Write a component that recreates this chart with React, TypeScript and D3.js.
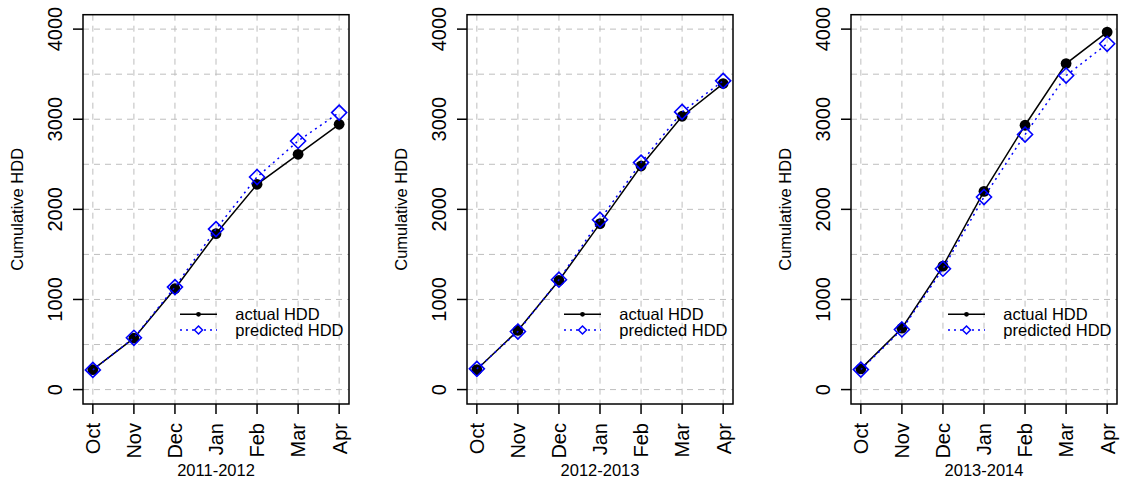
import React from "react";
import * as d3 from "d3";

const months = ["Oct", "Nov", "Dec", "Jan", "Feb", "Mar", "Apr"];
const seasons = ["2011-2012", "2012-2013", "2013-2014"];
const yTicks = [0, 1000, 2000, 3000, 4000];
const yGrid = [0, 500, 1000, 1500, 2000, 2500, 3000, 3500, 4000];

const actual2011 = [222, 570, 1119, 1730, 2278, 2611, 2944];
const predicted2011 = [218, 575, 1137, 1781, 2359, 2759, 3074];
const actual2012 = [222, 656, 1211, 1841, 2481, 3033, 3396];
const predicted2012 = [230, 644, 1219, 1885, 2519, 3081, 3426];
const actual2013 = [230, 681, 1370, 2200, 2933, 3618, 3967];
const predicted2013 = [222, 667, 1341, 2137, 2830, 3485, 3837];

const actualSeries = [actual2011, actual2012, actual2013];
const predictedSeries = [predicted2011, predicted2012, predicted2013];

const FONT = "'Liberation Sans', Arial, Helvetica, sans-serif";
const W = 1122;
const H = 485;
const boxLefts = [83, 467, 851];
const boxW = 266;
const boxTop = 14.7;
const boxBottom = 404;
const GRID = "#bebebe";
const BLUE = "#0000ff";

function diamond(cx: number, cy: number, r: number) {
  return `M${cx},${cy - r}L${cx + r},${cy}L${cx},${cy + r}L${cx - r},${cy}Z`;
}

function Panel({ idx }: { idx: number }) {
  const left = boxLefts[idx];
  const x = d3.scaleLinear().domain([0.76, 7.24]).range([left, left + boxW]);
  const y = d3.scaleLinear().domain([-160, 4160]).range([boxBottom, boxTop]);
  const actual = actualSeries[idx];
  const predicted = predictedSeries[idx];
  const line = d3
    .line<number>()
    .x((_, i) => x(i + 1))
    .y((d) => y(d));
  const legX = left + 97;
  const legY1 = 314.3;
  const legY2 = 330;
  const midY = (boxTop + boxBottom) / 2;
  return (
    <g>
      {/* grid */}
      {months.map((m, i) => (
        <line
          key={"vg" + m}
          x1={x(i + 1)}
          x2={x(i + 1)}
          y1={boxTop}
          y2={boxBottom}
          stroke={GRID}
          strokeWidth={1}
          strokeDasharray="6,5"
        />
      ))}
      {yGrid.map((v) => (
        <line
          key={"hg" + v}
          x1={left}
          x2={left + boxW}
          y1={y(v)}
          y2={y(v)}
          stroke={GRID}
          strokeWidth={1}
          strokeDasharray="6,5"
        />
      ))}
      {/* actual */}
      <path d={line(actual) || ""} fill="none" stroke="#000" strokeWidth={1.5} />
      {actual.map((v, i) => (
        <circle key={"a" + i} cx={x(i + 1)} cy={y(v)} r={5.4} fill="#000" />
      ))}
      {/* predicted */}
      <path
        d={line(predicted) || ""}
        fill="none"
        stroke={BLUE}
        strokeWidth={1.5}
        strokeDasharray="2,4"
      />
      {predicted.map((v, i) => (
        <path
          key={"p" + i}
          d={diamond(x(i + 1), y(v), 7.5)}
          fill="none"
          stroke={BLUE}
          strokeWidth={1.6}
        />
      ))}
      {/* box */}
      <rect
        x={left}
        y={boxTop}
        width={boxW}
        height={boxBottom - boxTop}
        fill="none"
        stroke="#000"
        strokeWidth={1.5}
      />
      {/* y axis */}
      {yTicks.map((v) => (
        <g key={"yt" + v}>
          <line x1={left - 10} x2={left} y1={y(v)} y2={y(v)} stroke="#000" strokeWidth={1.5} />
          <text
            transform={`translate(${left - 21},${y(v)}) rotate(-90)`}
            textAnchor="middle"
            fontFamily={FONT}
            fontSize={20}
            fill="#000"
          >
            {v}
          </text>
        </g>
      ))}
      {/* x axis */}
      {months.map((m, i) => (
        <g key={"xt" + m}>
          <line x1={x(i + 1)} x2={x(i + 1)} y1={boxBottom} y2={boxBottom + 10} stroke="#000" strokeWidth={1.5} />
          <text
            transform={`translate(${x(i + 1) + 7.4},${boxBottom + 19}) rotate(-90)`}
            textAnchor="end"
            fontFamily={FONT}
            fontSize={20}
            fill="#000"
          >
            {m}
          </text>
        </g>
      ))}
      <text
        x={left + boxW / 2}
        y={476}
        textAnchor="middle"
        fontFamily={FONT}
        fontSize={16.5}
        fill="#000"
      >
        {seasons[idx]}
      </text>
      <text
        transform={`translate(${left - 60},${midY}) rotate(-90)`}
        textAnchor="middle"
        fontFamily={FONT}
        fontSize={16.5}
        fill="#000"
      >
        Cumulative HDD
      </text>
      {/* legend */}
      <line x1={legX} x2={legX + 37} y1={legY1} y2={legY1} stroke="#000" strokeWidth={1.5} />
      <circle cx={legX + 18.5} cy={legY1} r={2.4} fill="#000" />
      <line
        x1={legX}
        x2={legX + 37}
        y1={legY2}
        y2={legY2}
        stroke={BLUE}
        strokeWidth={1.5}
        strokeDasharray="2,4"
      />
      <path d={diamond(legX + 18.5, legY2, 4)} fill="#fff" stroke={BLUE} strokeWidth={1.5} />
      <text x={legX + 55.3} y={legY1 + 6} fontFamily={FONT} fontSize={16.5} fill="#000">
        actual HDD
      </text>
      <text x={legX + 55.3} y={legY2 + 6} fontFamily={FONT} fontSize={16.5} fill="#000">
        predicted HDD
      </text>
    </g>
  );
}

export default function App() {
  return (
    <svg
      width={W}
      height={H}
      style={{ position: "absolute", left: 0, top: 0, background: "#fff" }}
    >
      <rect x={0} y={0} width={W} height={H} fill="#fff" />
      {seasons.map((s, i) => (
        <Panel key={s} idx={i} />
      ))}
    </svg>
  );
}
